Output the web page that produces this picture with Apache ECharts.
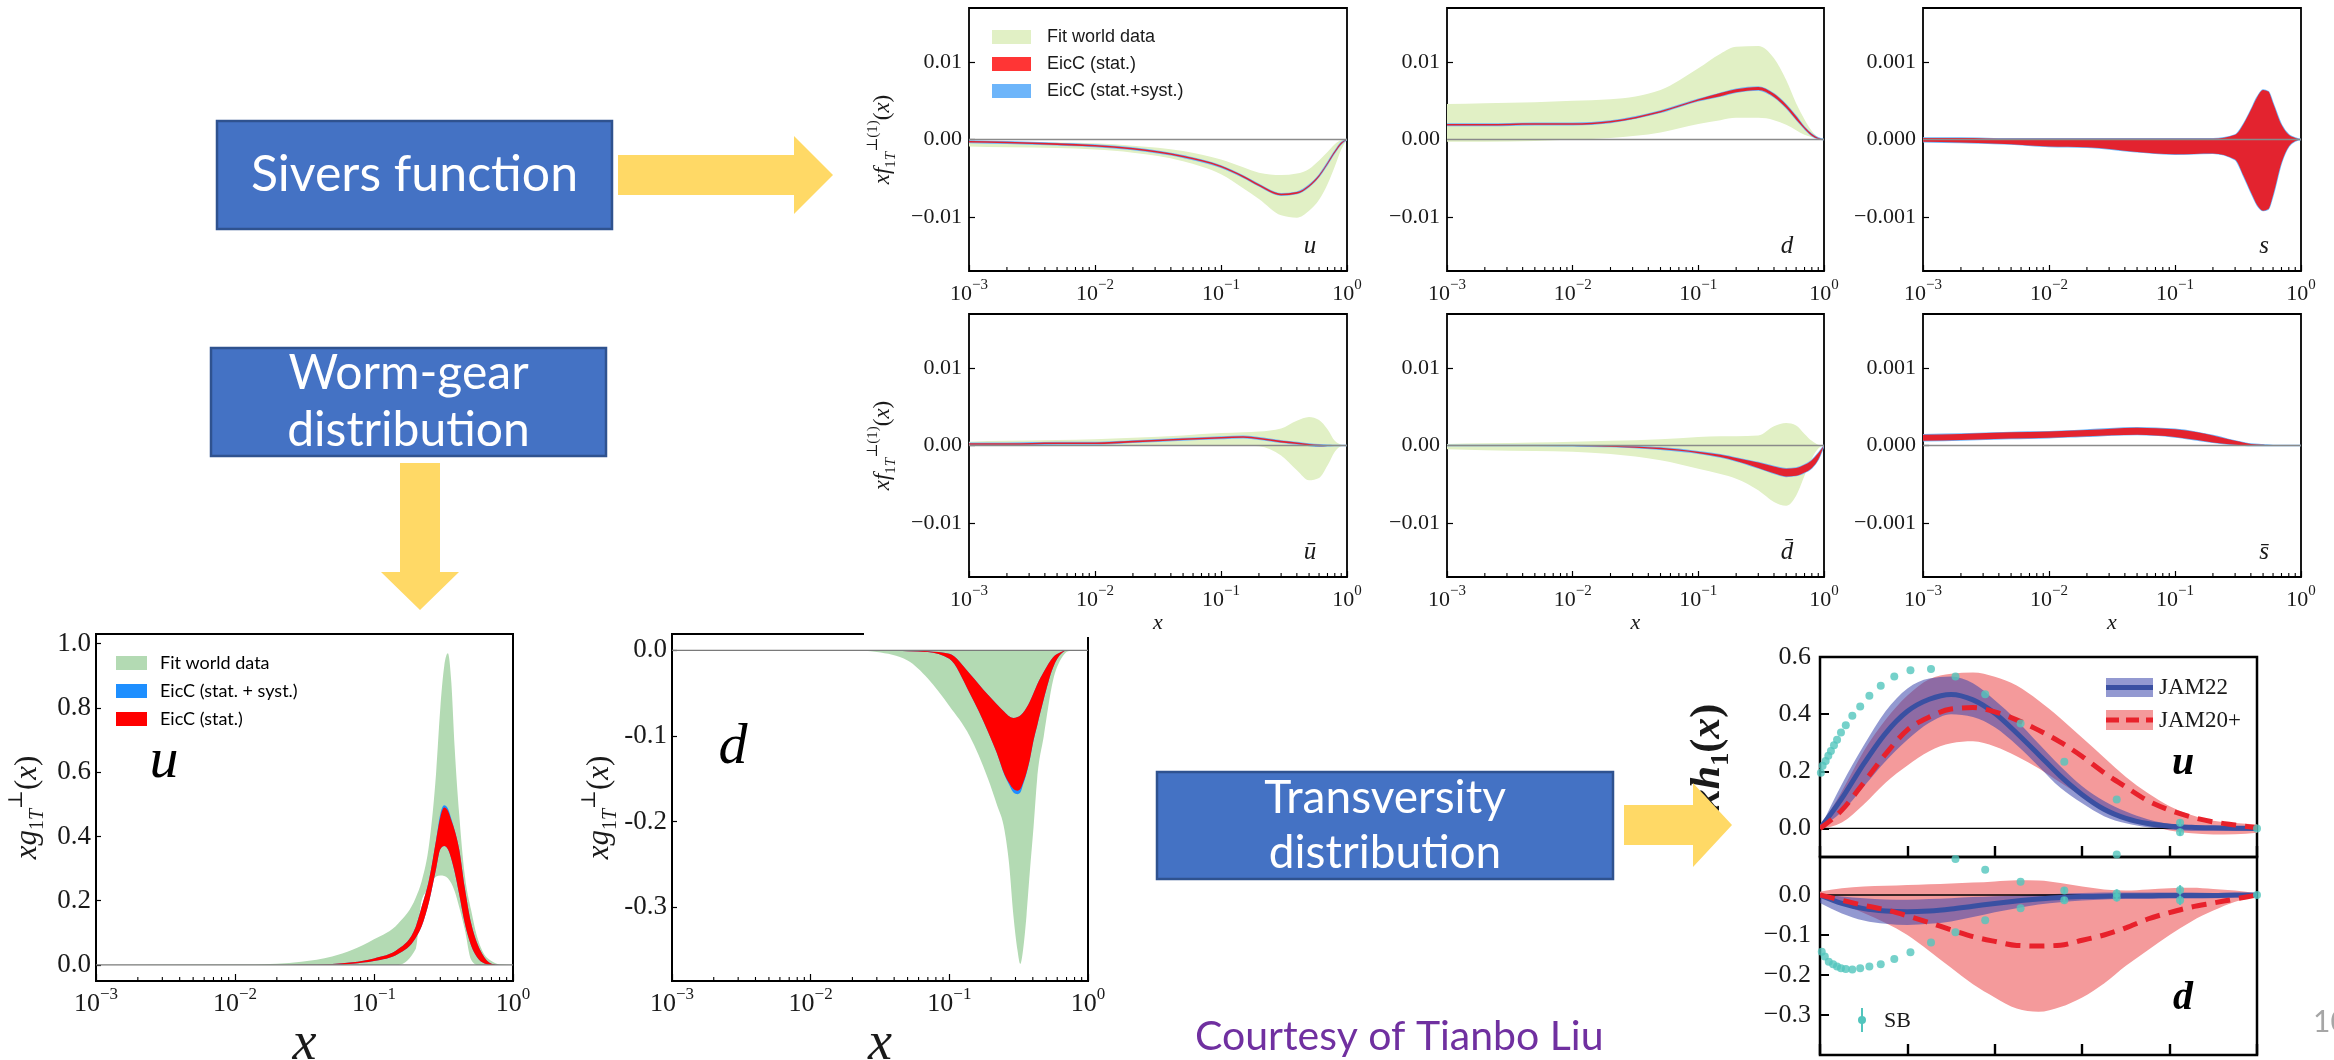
<!DOCTYPE html>
<html>
<head>
<meta charset="utf-8">
<title>TMD distributions at EicC</title>
<script src="https://cdn.jsdelivr.net/npm/echarts@6/dist/echarts.min.js"></script>
<style>
  html, body { margin: 0; padding: 0; background: #fff; }
  #main { width: 2334px; height: 1060px; }
</style>
</head>
<body>
<div id="main"></div>
<script>
// ---------------- data ----------------
// Sivers function x f_{1T}^{perp(1)}(x), bands read at these x values
const SX   = [0.001,0.002,0.005,0.01,0.02,0.05,0.1,0.15,0.2,0.3,0.4,0.5,0.6,0.7,0.8,0.9,1.0];
const SX_S = [0.001,0.002,0.005,0.01,0.02,0.05,0.1,0.2,0.3,0.35,0.4,0.45,0.5,0.55,0.6,0.7,0.8,0.9,1.0];

const SU_FIT_HI = [-0.0002,-0.0003,-0.0004,-0.0005,-0.0008,-0.0015,-0.0026,-0.0036,-0.0043,-0.0046,-0.0044,-0.0038,-0.0027,-0.0016,-0.0006,-0.0001,0];
const SU_FIT_LO = [-0.0009,-0.001,-0.0011,-0.0013,-0.0017,-0.0028,-0.0045,-0.0063,-0.0077,-0.0098,-0.0101,-0.0092,-0.0078,-0.0058,-0.0035,-0.0013,0];
const SU_HI = [-0.0002,-0.0003,-0.0005,-0.0007,-0.0011,-0.0021,-0.0034,-0.0047,-0.0058,-0.0070,-0.0068,-0.0059,-0.0046,-0.0030,-0.0015,-0.0004,0];
const SU_LO = [-0.0004,-0.0005,-0.0007,-0.0009,-0.0013,-0.0023,-0.0036,-0.0049,-0.0060,-0.0072,-0.0070,-0.0061,-0.0048,-0.0032,-0.0017,-0.0006,0];

const SD_FIT_HI = [0.0046,0.0047,0.0048,0.005,0.0052,0.0064,0.0092,0.0111,0.012,0.0121,0.0105,0.0077,0.0047,0.0026,0.0011,0.0003,0];
const SD_FIT_LO = [-0.0003,-0.0003,-0.0002,0,0.0002,0.0009,0.002,0.0025,0.0028,0.0028,0.0025,0.0019,0.0012,0.0006,0.0003,0.0001,0];
const SD_HI = [0.002,0.002,0.0021,0.0021,0.0024,0.0037,0.0052,0.006,0.0065,0.0068,0.0059,0.0045,0.003,0.0016,0.0007,0.0002,0];
const SD_LO = [0.0018,0.0018,0.0019,0.0019,0.0022,0.0035,0.005,0.0056,0.0061,0.0064,0.0055,0.0041,0.0026,0.0014,0.0005,0.0001,0];

const SS_HI = [0.00002,0.00002,0.00001,0.00001,0.00001,0.00001,0.00001,0.00001,0.00006,0.0002,0.00038,0.00055,0.00064,0.00062,0.00047,0.00019,0.00006,0.00002,0];
const SS_LO = [-0.00003,-0.00004,-0.00006,-0.00009,-0.0001,-0.00016,-0.00019,-0.00018,-0.00026,-0.00047,-0.00068,-0.00085,-0.00092,-0.0009,-0.00072,-0.0003,-0.00009,-0.00002,0];

const SUB_FIT_HI = [0.0005,0.0006,0.0007,0.0008,0.001,0.0013,0.0016,0.0017,0.0018,0.0022,0.0032,0.0037,0.0033,0.0021,0.0006,0.0001,0];
const SUB_FIT_LO = [0,0,0,0,0,0,0,0,-0.0001,-0.0013,-0.0032,-0.0045,-0.0042,-0.0026,-0.0008,-0.0001,0];
const SUB_HI = [0.0003,0.0003,0.0004,0.0004,0.0006,0.0009,0.0011,0.0012,0.001,0.0006,0.0004,0.0002,0.0001,0.00005,0,0,0];
const SUB_LO = [0.0001,0.0001,0.0002,0.0002,0.0004,0.0007,0.0009,0.001,0.0008,0.0004,0.0002,0,-0.0001,-0.00005,0,0,0];

const SDB_FIT_HI = [0.0002,0.0003,0.0004,0.0005,0.0006,0.0008,0.0011,0.0012,0.0012,0.0013,0.0025,0.0029,0.0026,0.0015,0.0006,0.0001,0];
const SDB_FIT_LO = [-0.0005,-0.0006,-0.0007,-0.0008,-0.0011,-0.0019,-0.003,-0.0037,-0.0043,-0.0058,-0.0073,-0.0078,-0.0065,-0.0039,-0.0017,-0.0004,0];
const SDB_HI = [0,0,0,0,-0.00005,-0.0003,-0.0008,-0.0012,-0.0016,-0.0022,-0.0027,-0.003,-0.0029,-0.0025,-0.0019,-0.001,0];
const SDB_LO = [0,0,0,-0.00005,-0.00015,-0.0005,-0.001,-0.0015,-0.002,-0.0029,-0.0036,-0.004,-0.0039,-0.0035,-0.0029,-0.0018,0];

const SSB_HI = [0.00014,0.00015,0.00017,0.00018,0.0002,0.00023,0.00021,0.00017,0.00013,0.00006,0.00002,0.00001,0,0,0,0,0];
const SSB_LO = [0.00006,0.00007,0.00009,0.0001,0.00012,0.00014,0.00011,0.00007,0.00004,0.00001,0,0,0,0,0,0,0];

// Worm-gear x g_{1T}^{perp}(x)
const WU_X = [0.001,0.01,0.02,0.03,0.05,0.07,0.1,0.15,0.2,0.22,0.25,0.28,0.3,0.32,0.34,0.36,0.38,0.41,0.45,0.5,0.55,0.6,0.7,0.8,1.0];
const WU_FIT_HI = [0,0.001,0.004,0.01,0.026,0.047,0.08,0.13,0.21,0.26,0.38,0.6,0.8,0.93,0.97,0.88,0.68,0.47,0.28,0.17,0.09,0.045,0.012,0.002,0];
const WU_FIT_LO = [0,0,0,0,0,0,0,0,0.05,0.2,0.24,0.275,0.278,0.277,0.27,0.254,0.23,0.18,0.11,0.016,0,0,0,0,0];
const WU_STAT_HI = [0,0,0,0.0005,0.003,0.008,0.02,0.05,0.12,0.18,0.27,0.39,0.46,0.49,0.48,0.45,0.42,0.36,0.24,0.13,0.07,0.035,0.004,0,0];
const WU_STAT_LO = [0,0,0,0,0.001,0.004,0.012,0.035,0.085,0.12,0.2,0.3,0.36,0.37,0.36,0.33,0.29,0.22,0.13,0.06,0.025,0.008,0,0,0];
const WU_SYST_HI = [0,0,0,0.0005,0.003,0.008,0.02,0.05,0.12,0.18,0.27,0.39,0.47,0.497,0.487,0.455,0.42,0.36,0.24,0.13,0.07,0.035,0.004,0,0];
const WU_SYST_LO = WU_STAT_LO;

const WD_X = [0.001,0.02,0.03,0.05,0.07,0.1,0.14,0.19,0.22,0.25,0.27,0.29,0.31,0.325,0.34,0.36,0.38,0.405,0.43,0.48,0.56,0.64,0.72,0.85,1.0];
const WD_FIT_HI = [0,0,0,0,0,0,0,0,0,0,0,0,0,0,0,0,0,0,0,0,0,0,0,0,0];
const WD_FIT_LO = [0,0,-0.002,-0.012,-0.033,-0.065,-0.1,-0.15,-0.18,-0.21,-0.25,-0.31,-0.35,-0.366,-0.35,-0.31,-0.26,-0.206,-0.15,-0.1,-0.035,-0.01,-0.001,0,0];
const WD_STAT_HI = [0,0,0,0,-0.001,-0.004,-0.027,-0.052,-0.063,-0.072,-0.077,-0.079,-0.078,-0.076,-0.073,-0.067,-0.06,-0.05,-0.04,-0.025,-0.008,-0.002,0,0,0];
const WD_STAT_LO = [0,0,0,-0.001,-0.002,-0.01,-0.05,-0.095,-0.12,-0.145,-0.155,-0.162,-0.164,-0.162,-0.155,-0.143,-0.128,-0.105,-0.088,-0.057,-0.02,-0.004,0,0,0];
const WD_SYST_HI = WD_STAT_HI;
const WD_SYST_LO = [0,0,0,-0.001,-0.002,-0.01,-0.05,-0.095,-0.12,-0.146,-0.157,-0.166,-0.168,-0.166,-0.157,-0.144,-0.128,-0.105,-0.088,-0.057,-0.02,-0.004,0,0,0];

// Transversity x h_1(x)
const TX = [0,0.05,0.1,0.15,0.2,0.25,0.3,0.35,0.4,0.45,0.5,0.55,0.6,0.65,0.7,0.75,0.8,0.85,0.9,0.95,1.0];
const JAM22_U    = [0,0.105,0.226,0.333,0.41,0.452,0.469,0.45,0.403,0.334,0.259,0.183,0.118,0.067,0.035,0.017,0.008,0.004,0.002,0.001,0];
const JAM22_U_HI = [0,0.155,0.29,0.41,0.49,0.525,0.532,0.508,0.449,0.379,0.297,0.218,0.148,0.096,0.059,0.032,0.016,0.009,0.005,0.003,0.002];
const JAM22_U_LO = [0,0.058,0.146,0.235,0.31,0.37,0.4,0.39,0.354,0.292,0.218,0.142,0.088,0.043,0.018,0.004,-0.004,-0.009,-0.009,-0.009,-0.008];
const JAM20_U    = [0,0.064,0.16,0.26,0.345,0.39,0.418,0.423,0.408,0.38,0.344,0.302,0.252,0.195,0.145,0.097,0.064,0.04,0.023,0.012,0.002];
const JAM20_U_HI = [0,0.13,0.27,0.38,0.465,0.522,0.541,0.546,0.531,0.5,0.448,0.386,0.317,0.248,0.18,0.124,0.078,0.047,0.027,0.019,0.014];
const JAM20_U_LO = [0,0.021,0.084,0.16,0.22,0.27,0.298,0.305,0.287,0.253,0.211,0.161,0.112,0.067,0.035,0.011,-0.007,-0.017,-0.021,-0.02,-0.015];
const JAM22_D    = [0,-0.021,-0.034,-0.04,-0.042,-0.04,-0.035,-0.028,-0.021,-0.015,-0.01,-0.006,-0.004,-0.003,-0.002,-0.002,-0.001,-0.001,-0.001,0,0];
const JAM22_D_HI = [0.003,-0.004,-0.008,-0.011,-0.012,-0.01,-0.008,-0.005,-0.003,-0.001,0.001,0.003,0.005,0.006,0.006,0.006,0.006,0.006,0.005,0.004,0.003];
const JAM22_D_LO = [-0.02,-0.046,-0.064,-0.072,-0.075,-0.072,-0.066,-0.055,-0.043,-0.033,-0.024,-0.018,-0.014,-0.011,-0.01,-0.01,-0.009,-0.009,-0.008,-0.006,-0.003];
const JAM20_D    = [0,-0.013,-0.026,-0.037,-0.052,-0.069,-0.087,-0.104,-0.116,-0.126,-0.1275,-0.1255,-0.113,-0.1,-0.082,-0.06,-0.044,-0.03,-0.02,-0.01,0];
const JAM20_D_HI = [0.008,0.017,0.021,0.023,0.025,0.027,0.029,0.031,0.034,0.037,0.036,0.03,0.021,0.014,0.011,0.014,0.017,0.018,0.015,0.011,0.004];
const JAM20_D_LO = [-0.004,-0.022,-0.045,-0.07,-0.1,-0.14,-0.182,-0.223,-0.256,-0.284,-0.292,-0.28,-0.256,-0.221,-0.177,-0.138,-0.1,-0.066,-0.039,-0.017,-0.003];

// Soffer-bound (SB) points
const SB_U_X   = [0.002,0.006,0.013,0.019,0.025,0.032,0.039,0.048,0.059,0.074,0.092,0.113,0.139,0.17,0.207,0.254,0.31,0.378,0.459,0.559,0.679,0.824,0.824,1.0,0.679];
const SB_U_Y   = [0.195,0.219,0.236,0.254,0.271,0.291,0.31,0.336,0.361,0.394,0.427,0.464,0.499,0.532,0.554,0.558,0.532,0.47,0.367,0.233,0.101,0.02,-0.013,0,-0.091];
const SB_U_ERR = [0,0,0,0,0,0,0,0,0,0,0,0,0,0,0,0,0,0,0,0,0,0.012,0.012,0,0];
const SB_D_X   = [0.004,0.011,0.02,0.03,0.039,0.048,0.059,0.074,0.092,0.113,0.139,0.17,0.207,0.254,0.31,0.378,0.459,0.559,0.679,0.824,1.0,0.31,0.378,0.459,0.559,0.679,0.824];
const SB_D_Y   = [-0.142,-0.154,-0.167,-0.173,-0.179,-0.183,-0.185,-0.186,-0.183,-0.179,-0.173,-0.16,-0.143,-0.119,-0.093,-0.063,-0.033,-0.013,-0.006,-0.013,0,0.09,0.063,0.033,0.011,0.004,0.0125];
const SB_D_ERR = [0,0,0,0,0,0,0,0,0,0,0,0,0,0,0,0,0,0.008,0.01,0.012,0,0,0,0,0.008,0.01,0.012];

// tick labels
const EXP_LABELS = ['\u22123','\u22122','\u22121','0'];
const MINOR_TICKS = [0.002,0.003,0.004,0.005,0.006,0.007,0.008,0.009,0.02,0.03,0.04,0.05,0.06,0.07,0.08,0.09,0.2,0.3,0.4,0.5,0.6,0.7,0.8,0.9];
const SIV_TICKS = [-0.01, 0, 0.01];
const SIV_S_TICKS = [-0.001, 0, 0.001];
const WU_TICKS = [0, 0.2, 0.4, 0.6, 0.8, 1.0];
const WD_TICKS = [0, -0.1, -0.2, -0.3];
const TU_TICKS = [0, 0.2, 0.4, 0.6];
const TD_TICKS = [0, -0.1, -0.2, -0.3];

// ---------------- styling ----------------
const SERIF = '"Liberation Serif", "DejaVu Serif", serif';
const SANS = '"Liberation Sans", Arial, sans-serif';
const SLIDE = 'Lato, "Open Sans", sans-serif';
const INK = '#1a1a1a';

const C = {
  sivFit: '#e1f0c5', sivStat: '#e3232f', sivSyst: '#6db5fa',
  wormFit: '#b3dab3', wormStat: '#ff0000', wormSyst: '#1e8fff',
  jam22Band: 'rgba(58,70,172,0.55)', jam22Line: '#3a50a2',
  jam20Band: '#f49a9b', jam20Line: '#e8212b', sb: '#52c5bd',
  box: '#4472c4', boxEdge: '#2f528f', arrow: '#ffd966'
};

const L = {
  sU:  { left: 969,  top: 8,   width: 378, height: 263 },
  sD:  { left: 1447, top: 8,   width: 377, height: 263 },
  sS:  { left: 1923, top: 8,   width: 378, height: 263 },
  sUb: { left: 969,  top: 314, width: 378, height: 263 },
  sDb: { left: 1447, top: 314, width: 377, height: 263 },
  sSb: { left: 1923, top: 314, width: 378, height: 263 },
  wU:  { left: 96,   top: 634, width: 417, height: 347 },
  wD:  { left: 672,  top: 634, width: 416, height: 347 },
  tU:  { left: 1820, top: 657, width: 437, height: 200 },
  tD:  { left: 1820, top: 857, width: 437, height: 198 }
};

const grids = [], xAxes = [], yAxes = [], series = [], graphics = [];

function addPanel(rect, xAx, yAx, borderWidth) {
  const i = grids.length;
  grids.push({
    left: rect.left, top: rect.top, width: rect.width, height: rect.height,
    show: true, borderColor: '#000', borderWidth: borderWidth, backgroundColor: 'transparent',
    containLabel: false, outerBoundsMode: 'none'
  });
  xAxes.push(Object.assign({ gridIndex: i, position: 'bottom' }, xAx));
  yAxes.push(Object.assign({ gridIndex: i, position: 'left' }, yAx));
  return i;
}

function minusFmt(digits) {
  return v => (v < 0 ? '\u2212' : '') + Math.abs(v).toFixed(digits);
}

function logXAxis(o) {
  return {
    type: 'log', logBase: 10, min: 0.001, max: 1,
    axisLine: { show: false, onZero: false }, splitLine: { show: false },
    axisTick: { inside: true, length: o.tickLen, lineStyle: { color: '#000', width: 1.2 } },
    axisLabel: {
      show: true, margin: o.margin, showMinLabel: true, showMaxLabel: true,
      formatter: v => '{b|10}{s|' + EXP_LABELS[Math.round(Math.log10(v)) + 3] + '}',
      rich: {
        b: { fontFamily: SERIF, fontSize: o.font, color: INK, verticalAlign: 'bottom', lineHeight: o.font + 5 },
        s: { fontFamily: SERIF, fontSize: o.sup, color: INK, verticalAlign: 'top', lineHeight: o.sup }
      }
    },
    name: o.name || '', nameLocation: 'middle', nameGap: o.nameGap || 0,
    nameTextStyle: { fontFamily: SERIF, fontStyle: 'italic', fontSize: o.nameSize || 22, color: INK }
  };
}

function mathRich(size, subSize, bold) {
  const w = bold ? 'bold' : 'normal';
  return {
    i: { fontFamily: SERIF, fontStyle: 'italic', fontWeight: w, fontSize: size, color: INK, lineHeight: size + 10 },
    r: { fontFamily: SERIF, fontWeight: w, fontSize: size, color: INK, lineHeight: size + 10 },
    sub: { fontFamily: SERIF, fontStyle: 'italic', fontWeight: w, fontSize: subSize, color: INK, lineHeight: subSize, verticalAlign: 'bottom' },
    subr: { fontFamily: SERIF, fontWeight: w, fontSize: subSize, color: INK, lineHeight: subSize, verticalAlign: 'bottom' },
    sup: { fontFamily: SERIF, fontWeight: w, fontSize: subSize, color: INK, lineHeight: subSize, verticalAlign: 'top' }
  };
}

function valueYAxis(o) {
  return {
    type: 'value', min: o.min, max: o.max,
    axisLine: { show: false, onZero: false }, splitLine: { show: false },
    axisTick: { inside: true, length: o.tickLen, customValues: o.ticks, lineStyle: { color: '#000', width: o.tickWidth || 1.2 } },
    axisLabel: { customValues: o.ticks, formatter: o.fmt, fontFamily: SERIF, fontSize: o.font, color: INK, margin: o.margin },
    name: o.name || '', nameLocation: 'middle', nameRotate: 90, nameGap: o.nameGap || 0,
    nameTextStyle: { fontFamily: SERIF, fontSize: o.font, color: INK, rich: o.rich || {} }
  };
}

// monotone cubic tangents for pixel points sorted by x (no overshoot between samples)
function monoTangents(p) {
  const n = p.length, m = new Array(n).fill(0), h = [], s = [];
  for (let i = 0; i < n - 1; i++) {
    h[i] = p[i + 1][0] - p[i][0];
    s[i] = h[i] ? (p[i + 1][1] - p[i][1]) / h[i] : 0;
  }
  for (let i = 1; i < n - 1; i++) {
    if (s[i - 1] * s[i] <= 0) { m[i] = 0; continue; }
    const q = (s[i - 1] * h[i] + s[i] * h[i - 1]) / (h[i - 1] + h[i]);
    m[i] = (Math.sign(s[i - 1]) + Math.sign(s[i])) * Math.min(Math.abs(s[i - 1]), Math.abs(s[i]), 0.5 * Math.abs(q));
  }
  if (n > 2) {
    m[0] = (3 * s[0] - m[1]) / 2;
    m[n - 1] = (3 * s[n - 2] - m[n - 2]) / 2;
    if (m[0] * s[0] <= 0) m[0] = 0;
    if (m[n - 1] * s[n - 2] <= 0) m[n - 1] = 0;
  } else if (n === 2) { m[0] = m[1] = s[0]; }
  return m;
}

function f(v) { return v.toFixed(2); }

// smooth run through pixel points, either forwards or backwards
function curveSegments(P, forward) {
  const m = monoTangents(P);
  let d = '';
  if (forward) {
    for (let i = 0; i < P.length - 1; i++) {
      const h = (P[i + 1][0] - P[i][0]) / 3;
      d += 'C' + f(P[i][0] + h) + ' ' + f(P[i][1] + m[i] * h) + ' ' + f(P[i + 1][0] - h) + ' ' + f(P[i + 1][1] - m[i + 1] * h) + ' ' + f(P[i + 1][0]) + ' ' + f(P[i + 1][1]);
    }
  } else {
    for (let i = P.length - 1; i > 0; i--) {
      const h = (P[i][0] - P[i - 1][0]) / 3;
      d += 'C' + f(P[i][0] - h) + ' ' + f(P[i][1] - m[i] * h) + ' ' + f(P[i - 1][0] + h) + ' ' + f(P[i - 1][1] + m[i - 1] * h) + ' ' + f(P[i - 1][0]) + ' ' + f(P[i - 1][1]);
    }
  }
  return d;
}

// closed outline: along the upper edge left to right, back along the lower edge
function bandPath(U, D) {
  const n = D.length - 1;
  return 'M' + f(U[0][0]) + ' ' + f(U[0][1]) + curveSegments(U, true) +
         'L' + f(D[n][0]) + ' ' + f(D[n][1]) + curveSegments(D, false) + 'Z';
}

// filled band between lo and hi, positioned through the panel's axes
function band(gi, name, xs, lo, hi, color, z, stroke) {
  return {
    type: 'custom', name: name, xAxisIndex: gi, yAxisIndex: gi, z: z, clip: true, silent: true,
    itemStyle: { color: color },
    data: xs.map((x, k) => [x, lo[k], hi[k]]),
    encode: { x: 0, y: [1, 2] },
    renderItem: (params, api) => {
      if (params.dataIndex !== 0) return null;
      const U = xs.map((x, k) => api.coord([x, hi[k]]));
      const D = xs.map((x, k) => api.coord([x, lo[k]]));
      return {
        type: 'path', shape: { pathData: bandPath(U, D) },
        style: { fill: color, stroke: stroke || null, lineWidth: stroke ? 1.4 : 0 }
      };
    }
  };
}

// central curve drawn with the same monotone smoothing as the bands
function curve(gi, name, xs, ys, color, width, dash, z) {
  return {
    type: 'custom', name: name, xAxisIndex: gi, yAxisIndex: gi, z: z, clip: true, silent: true,
    itemStyle: { color: color },
    data: xs.map((x, k) => [x, ys[k]]),
    renderItem: (params, api) => {
      if (params.dataIndex !== 0) return null;
      const P = xs.map((x, k) => api.coord([x, ys[k]]));
      return {
        type: 'path', shape: { pathData: 'M' + f(P[0][0]) + ' ' + f(P[0][1]) + curveSegments(P, true) },
        style: { fill: null, stroke: color, lineWidth: width, lineDash: dash || null, lineCap: 'butt' }
      };
    }
  };
}

function zeroLine(gi, x0, x1, color, width, z) {
  return {
    type: 'line', xAxisIndex: gi, yAxisIndex: gi, z: z, showSymbol: false, silent: true,
    data: [[x0, 0], [x1, 0]], lineStyle: { color: color, width: width }
  };
}

function minorTicks(gi, yMin, len) {
  return {
    type: 'custom', xAxisIndex: gi, yAxisIndex: gi, z: 6, clip: false, silent: true,
    data: MINOR_TICKS.map(v => [v, yMin]),
    renderItem: (params, api) => {
      const p = api.coord([api.value(0), yMin]);
      return { type: 'line', shape: { x1: p[0], y1: p[1], x2: p[0], y2: p[1] - len }, style: { stroke: '#000', lineWidth: 1.1 } };
    }
  };
}

// ---------------- Sivers panels ----------------
const SIV_YNAME = '{i|xf}{subr|1}{sub|T}{sup|\u22a5(1)}{r|(}{i|x}{r|)}';
const sivers = [
  { r: L.sU,  xs: SX,   fit: [SU_FIT_LO, SU_FIT_HI],   band: [SU_LO, SU_HI],   rng: 0.017,  ticks: SIV_TICKS,   dig: 2, letter: 'u',        yName: true,  xName: false },
  { r: L.sD,  xs: SX,   fit: [SD_FIT_LO, SD_FIT_HI],   band: [SD_LO, SD_HI],   rng: 0.017,  ticks: SIV_TICKS,   dig: 2, letter: 'd',        yName: false, xName: false },
  { r: L.sS,  xs: SX_S, fit: null,                     band: [SS_LO, SS_HI],   rng: 0.0017, ticks: SIV_S_TICKS, dig: 3, letter: 's',        yName: false, xName: false },
  { r: L.sUb, xs: SX,   fit: [SUB_FIT_LO, SUB_FIT_HI], band: [SUB_LO, SUB_HI], rng: 0.017,  ticks: SIV_TICKS,   dig: 2, letter: '\u016b',   yName: true,  xName: true },
  { r: L.sDb, xs: SX,   fit: [SDB_FIT_LO, SDB_FIT_HI], band: [SDB_LO, SDB_HI], rng: 0.017,  ticks: SIV_TICKS,   dig: 2, letter: 'd\u0304',  yName: false, xName: true },
  { r: L.sSb, xs: SX,   fit: null,                     band: [SSB_LO, SSB_HI], rng: 0.0017, ticks: SIV_S_TICKS, dig: 3, letter: 's\u0304',  yName: false, xName: true }
];

sivers.forEach(p => {
  const gi = addPanel(p.r,
    logXAxis({ font: 22, sup: 15, margin: 7, tickLen: 6, name: p.xName ? 'x' : '', nameGap: 34, nameSize: 22 }),
    valueYAxis({ min: -p.rng, max: p.rng, ticks: p.ticks, fmt: minusFmt(p.dig), font: 22, margin: 7, tickLen: 6,
                 name: p.yName ? SIV_YNAME : '', nameGap: 70, rich: mathRich(23, 15, false) }),
    1.8);
  if (p.fit) series.push(band(gi, 'Fit world data', p.xs, p.fit[0], p.fit[1], C.sivFit, 1));
  series.push(band(gi, 'EicC (stat.+syst.)', p.xs, p.band[0], p.band[1], C.sivSyst, 2, C.sivSyst));
  series.push(band(gi, 'EicC (stat.)', p.xs, p.band[0], p.band[1], C.sivStat, 3));
  series.push(zeroLine(gi, 0.001, 1, '#8a8a8a', 1.6, 4));
  series.push(minorTicks(gi, -p.rng, 4));
  graphics.push({
    type: 'text', x: p.r.left + p.r.width - 37, y: p.r.top + p.r.height - 25, z: 50,
    style: { text: p.letter, fontFamily: SERIF, fontStyle: 'italic', fontSize: 25, fill: INK, align: 'center', verticalAlign: 'middle' }
  });
});

// ---------------- worm-gear panels ----------------
const WORM_YNAME = '{i|xg}{subr|1}{sub|T}{sup|\u22a5}{r|(}{i|x}{r|)}';
const wu = addPanel(L.wU,
  logXAxis({ font: 26, sup: 17, margin: 5, tickLen: 7, name: 'x', nameGap: 30, nameSize: 54 }),
  valueYAxis({ min: -0.05, max: 1.03, ticks: WU_TICKS, fmt: v => v.toFixed(1), font: 27, margin: 5, tickLen: 5,
               name: WORM_YNAME, nameGap: 48, rich: mathRich(31, 20, false) }),
  2);
series.push(band(wu, 'Fit world data', WU_X, WU_FIT_LO, WU_FIT_HI, C.wormFit, 1));
series.push(band(wu, 'EicC (stat. + syst.)', WU_X, WU_SYST_LO, WU_SYST_HI, C.wormSyst, 2));
series.push(band(wu, 'EicC (stat.)', WU_X, WU_STAT_LO, WU_STAT_HI, C.wormStat, 3));
series.push(zeroLine(wu, 0.001, 1, '#7a7a7a', 1.3, 4));
series.push(minorTicks(wu, -0.05, 4));

const wd = addPanel(L.wD,
  logXAxis({ font: 26, sup: 17, margin: 5, tickLen: 7, name: 'x', nameGap: 30, nameSize: 54 }),
  valueYAxis({ min: -0.386, max: 0.019, ticks: WD_TICKS, fmt: v => v.toFixed(1), font: 27, margin: 5, tickLen: 5,
               name: WORM_YNAME, nameGap: 50, rich: mathRich(31, 20, false) }),
  2);
series.push(band(wd, 'Fit world data', WD_X, WD_FIT_LO, WD_FIT_HI, C.wormFit, 1));
series.push(band(wd, 'EicC (stat. + syst.)', WD_X, WD_SYST_LO, WD_SYST_HI, C.wormSyst, 2));
series.push(band(wd, 'EicC (stat.)', WD_X, WD_STAT_LO, WD_STAT_HI, C.wormStat, 3));
series.push(zeroLine(wd, 0.001, 1, '#7a7a7a', 1.3, 4));
series.push(minorTicks(wd, -0.386, 4));

// ---------------- transversity panels ----------------
function linXAxis() {
  return {
    type: 'value', min: 0, max: 1, interval: 0.2,
    axisLine: { show: false, onZero: false }, splitLine: { show: false },
    axisTick: { inside: true, length: 11, lineStyle: { color: '#000', width: 2.4 } },
    axisLabel: { show: false }
  };
}
const TRANS_YNAME = '{i|xh}{subr|1}{r|(}{i|x}{r|)}';
const tu = addPanel(L.tU, linXAxis(),
  valueYAxis({ min: -0.1, max: 0.6, ticks: TU_TICKS, fmt: minusFmt(1), font: 26, margin: 9, tickLen: 9, tickWidth: 2,
               name: TRANS_YNAME, nameGap: 86, rich: mathRich(42, 26, true) }),
  2.5);
const td = addPanel(L.tD, linXAxis(),
  valueYAxis({ min: -0.4, max: 0.095, ticks: TD_TICKS, fmt: minusFmt(1), font: 26, margin: 9, tickLen: 9, tickWidth: 2 }),
  2.5);

function sbSeries(gi, xs, ys, errs) {
  series.push({
    type: 'custom', xAxisIndex: gi, yAxisIndex: gi, z: 7, clip: true, silent: true,
    data: xs.map((x, k) => [x, ys[k], errs[k]]),
    renderItem: (params, api) => {
      const e = api.value(2);
      if (!e) return null;
      const a = api.coord([api.value(0), api.value(1) - e]);
      const b = api.coord([api.value(0), api.value(1) + e]);
      return { type: 'line', shape: { x1: a[0], y1: a[1], x2: b[0], y2: b[1] }, style: { stroke: C.sb, lineWidth: 2 } };
    }
  });
  series.push({
    type: 'scatter', xAxisIndex: gi, yAxisIndex: gi, z: 8, clip: true, silent: true,
    symbol: 'circle', symbolSize: 8, itemStyle: { color: C.sb },
    data: xs.map((x, k) => [x, ys[k]])
  });
}

[[tu, JAM20_U_LO, JAM20_U_HI, JAM22_U_LO, JAM22_U_HI, JAM22_U, JAM20_U],
 [td, JAM20_D_LO, JAM20_D_HI, JAM22_D_LO, JAM22_D_HI, JAM22_D, JAM20_D]].forEach(s => {
  const gi = s[0];
  series.push(band(gi, 'JAM20+ band', TX, s[1], s[2], C.jam20Band, 1));
  series.push(band(gi, 'JAM22 band', TX, s[3], s[4], C.jam22Band, 2));
  series.push(zeroLine(gi, 0, 1, '#000', 1.3, 3));
  series.push(curve(gi, 'JAM22', TX, s[5], C.jam22Line, 5, null, 4));
  series.push(curve(gi, 'JAM20+', TX, s[6], C.jam20Line, 5, [15, 9], 5));
});
sbSeries(tu, SB_U_X, SB_U_Y, SB_U_ERR);
sbSeries(td, SB_D_X, SB_D_Y, SB_D_ERR);

// ---------------- slide decorations ----------------
function boxText(x, y, w, h, text, size, lh) {
  graphics.push({ type: 'rect', z: 60, shape: { x: x, y: y, width: w, height: h },
                  style: { fill: C.box, stroke: C.boxEdge, lineWidth: 2.5 } });
  graphics.push({ type: 'text', z: 61, x: x + w / 2, y: y + h / 2,
                  style: { text: text, fill: '#fff', fontFamily: SLIDE, fontSize: size, lineHeight: lh, align: 'center', verticalAlign: 'middle' } });
}
boxText(217, 121, 395, 108, 'Sivers function', 50, 58);
boxText(211, 348, 395, 108, 'Worm-gear\ndistribution', 48, 57);
boxText(1157, 772, 456, 107, 'Transversity\ndistribution', 46, 55);

function arrowRight(x0, xh, tip, cy, shaftHalf, headHalf) {
  graphics.push({ type: 'polygon', z: 80, shape: { points: [
    [x0, cy - shaftHalf], [xh, cy - shaftHalf], [xh, cy - headHalf], [tip, cy],
    [xh, cy + headHalf], [xh, cy + shaftHalf], [x0, cy + shaftHalf]] }, style: { fill: C.arrow } });
}
arrowRight(618, 794, 833, 175, 20, 39);
arrowRight(1624, 1693, 1732, 825, 20, 42);
graphics.push({ type: 'polygon', z: 80, shape: { points: [
  [400, 463], [440, 463], [440, 572], [459, 572], [420, 610], [381, 572], [400, 572]] }, style: { fill: C.arrow } });

// cut in the top frame of the d worm-gear panel
graphics.push({ type: 'rect', z: 40, shape: { x: 864, y: 630, width: 230, height: 7 }, style: { fill: '#fff' } });

// flavour tags on worm-gear and transversity panels
graphics.push({ type: 'text', z: 50, x: 164, y: 762, style: { text: 'u', fontFamily: SERIF, fontStyle: 'italic', fontSize: 58, fill: '#000', align: 'center', verticalAlign: 'middle' } });
graphics.push({ type: 'text', z: 50, x: 733, y: 748, style: { text: 'd', fontFamily: SERIF, fontStyle: 'italic', fontSize: 58, fill: '#000', align: 'center', verticalAlign: 'middle' } });
graphics.push({ type: 'text', z: 50, x: 2183, y: 764, style: { text: 'u', fontFamily: SERIF, fontStyle: 'italic', fontWeight: 'bold', fontSize: 40, fill: '#000', align: 'center', verticalAlign: 'middle' } });
graphics.push({ type: 'text', z: 50, x: 2183, y: 999, style: { text: 'd', fontFamily: SERIF, fontStyle: 'italic', fontWeight: 'bold', fontSize: 40, fill: '#000', align: 'center', verticalAlign: 'middle' } });

// transversity legend
graphics.push({ type: 'rect', z: 50, shape: { x: 2106, y: 678, width: 47, height: 19 }, style: { fill: C.jam22Band } });
graphics.push({ type: 'line', z: 51, shape: { x1: 2106, y1: 687.5, x2: 2153, y2: 687.5 }, style: { stroke: C.jam22Line, lineWidth: 5 } });
graphics.push({ type: 'rect', z: 50, shape: { x: 2106, y: 710, width: 47, height: 20 }, style: { fill: C.jam20Band } });
graphics.push({ type: 'line', z: 51, shape: { x1: 2106, y1: 720, x2: 2153, y2: 720 }, style: { stroke: C.jam20Line, lineWidth: 5, lineDash: [13, 7] } });
graphics.push({ type: 'text', z: 51, x: 2159, y: 688, style: { text: 'JAM22', fontFamily: SERIF, fontSize: 23, fill: INK, align: 'left', verticalAlign: 'middle' } });
graphics.push({ type: 'text', z: 51, x: 2159, y: 721, style: { text: 'JAM20+', fontFamily: SERIF, fontSize: 23, fill: INK, align: 'left', verticalAlign: 'middle' } });
graphics.push({ type: 'line', z: 51, shape: { x1: 1862, y1: 1008, x2: 1862, y2: 1032 }, style: { stroke: C.sb, lineWidth: 2 } });
graphics.push({ type: 'circle', z: 52, shape: { cx: 1862, cy: 1020, r: 4 }, style: { fill: C.sb } });
graphics.push({ type: 'text', z: 51, x: 1884, y: 1021, style: { text: 'SB', fontFamily: SERIF, fontSize: 22, fill: INK, align: 'left', verticalAlign: 'middle' } });

graphics.push({ type: 'text', z: 60, x: 1195, y: 1037, style: { text: 'Courtesy of Tianbo Liu', fill: '#7030a0', fontFamily: SLIDE, fontSize: 41, align: 'left', verticalAlign: 'middle' } });
graphics.push({ type: 'text', z: 60, x: 2313, y: 1022, style: { text: '10', fill: '#a6a6a6', fontFamily: SLIDE, fontSize: 30, align: 'left', verticalAlign: 'middle' } });

// ---------------- legends ----------------
const legends = [
  {
    orient: 'vertical', left: 987, top: 23, itemWidth: 39, itemHeight: 14, itemGap: 9, icon: 'rect', selectedMode: false,
    textStyle: { fontFamily: SANS, fontSize: 18, color: INK, lineHeight: 14, padding: [0, 0, 0, 11] },
    data: [
      { name: 'Fit world data', itemStyle: { color: C.sivFit } },
      { name: 'EicC (stat.)', itemStyle: { color: '#ff3535' } },
      { name: 'EicC (stat.+syst.)', itemStyle: { color: C.sivSyst } }
    ]
  },
  {
    orient: 'vertical', left: 111, top: 649, itemWidth: 31, itemHeight: 14, itemGap: 10, icon: 'rect', selectedMode: false,
    textStyle: { fontFamily: SLIDE, fontSize: 18, color: '#000', lineHeight: 14, padding: [0, 0, 0, 8] },
    data: [
      { name: 'Fit world data', itemStyle: { color: C.wormFit } },
      { name: 'EicC (stat. + syst.)', itemStyle: { color: C.wormSyst } },
      { name: 'EicC (stat.)', itemStyle: { color: C.wormStat } }
    ]
  }
];

const chart = echarts.init(document.getElementById('main'), null, { renderer: 'canvas', width: 2334, height: 1060 });
chart.setOption({
  animation: false,
  backgroundColor: '#fff',
  grid: grids, xAxis: xAxes, yAxis: yAxes,
  legend: legends,
  series: series,
  graphic: { elements: graphics }
});
</script>
</body>
</html>
